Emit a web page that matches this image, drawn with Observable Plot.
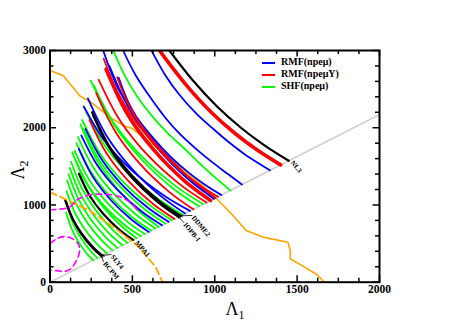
<!DOCTYPE html>
<html><head><meta charset="utf-8">
<script src="https://cdn.jsdelivr.net/npm/d3@7"></script>
<script src="https://cdn.jsdelivr.net/npm/@observablehq/plot@0.6"></script>
<style>
body{margin:0;background:#fff;}
#wrap{position:relative;width:457px;height:323px;overflow:hidden;}
.lg{position:absolute;font-family:"Liberation Serif","Times New Roman",serif;font-weight:bold;font-size:10px;line-height:12px;white-space:nowrap;}
.ll{position:absolute;height:2px;width:13px;}
</style></head><body><div id="wrap"></div>
<script>
// ---------- data ----------
const groups = ["RMF(npeμ)", "RMF(npeμY)", "SHF(npeμ)", "named"];
const groupColors = ["#0000ff", "#ff0000", "#00ff00", "#000000"];

const curveGroup = [
  "named","RMF(npeμY)","RMF(npeμ)","RMF(npeμ)","SHF(npeμ)","RMF(npeμ)","RMF(npeμY)","RMF(npeμY)","RMF(npeμ)",
  "SHF(npeμ)","SHF(npeμ)","named","named","SHF(npeμ)","SHF(npeμ)","SHF(npeμ)","SHF(npeμ)","SHF(npeμ)","named",
  "SHF(npeμ)","SHF(npeμ)","SHF(npeμ)","RMF(npeμ)","SHF(npeμ)","SHF(npeμ)","SHF(npeμ)","RMF(npeμ)","SHF(npeμ)","RMF(npeμ)",
  "SHF(npeμ)","RMF(npeμY)","named","named","RMF(npeμ)","SHF(npeμ)","RMF(npeμ)","RMF(npeμY)","SHF(npeμ)","SHF(npeμ)","RMF(npeμY)",
  "RMF(npeμY)","RMF(npeμ)"
];
const curveName = [
  "NL3","","","","","","","","",
  "","","SLY4","BCPM","","","","","","MPA1",
  "","","","","","","","","","",
  "","","IOPB-I","DDME2","","","","","","","",
  "",""
];
const curveL1 = [
  [652,725,869,1014,1159,1304,1449],
  [630,700,840,980,1120,1260,1400],
  [590,616,700,788,890,990,1090,1192,1335],
  [425,444,520,600,700,788,890,990,1080,1165],
  [370,384,450,530,620,710,800,900,1000,1095],
  [312,416,520,624,728,832,936,1040],
  [326,408,510,612,714,816,918,1020],
  [408,470,560,680,820,1005],
  [417,480,570,690,830,995],
  [98,131,172,221,262],
  [106,142,188,243,288],
  [92,137,194,262,318],
  [97,140,194,258,312],
  [100,149,210,284,345],
  [104,159,228,311,380],
  [112,172,246,336,410],
  [120,184,264,360,440],
  [128,196,282,385,470],
  [176,242,324,423,505],
  [135,213,311,428,525],
  [155,234,333,451,550],
  [150,235,341,469,575],
  [175,260,366,494,600],
  [160,251,365,501,615],
  [170,264,382,523,640],
  [185,280,399,541,660],
  [190,288,411,558,680],
  [201,301,426,575,700],
  [215,316,442,594,720],
  [195,304,440,604,740],
  [240,343,472,626,755],
  [262,366,495,651,780],
  [256,363,497,658,792],
  [230,348,496,673,820],
  [220,337,483,659,805],
  [205,334,495,689,850],
  [280,398,546,723,870],
  [266,394,554,745,905],
  [246,383,554,759,930],
  [296,427,590,787,950],
  [340,467,626,816,975],
  [360,487,646,836,995]
];
const curveL2 = [
  [3217,2999,2608,2275,2000,1768,1572],
  [3108,2898,2520,2198,1932,1708,1519],
  [3110,3000,2680,2420,2180,1987,1805,1641,1449],
  [3100,3000,2680,2420,2130,1920,1720,1545,1400,1265],
  [3070,3000,2690,2400,2150,1940,1760,1555,1360,1188],
  [3068,2496,2153,1872,1633,1435,1269,1129],
  [2893,2470,2111,1836,1601,1408,1244,1107],
  [2655,2330,2010,1700,1400,1091],
  [2647,2310,1990,1680,1380,1080],
  [900,693,524,376,284],
  [980,756,573,413,313],
  [1062,821,625,453,345],
  [1045,808,614,445,339],
  [1180,909,688,495,374],
  [1317,1013,765,548,412],
  [1400,1079,817,588,445],
  [1480,1143,869,628,478],
  [1560,1207,920,668,510],
  [1404,1116,882,676,548],
  [1683,1309,1004,737,570],
  [1576,1247,979,744,597],
  [1700,1338,1044,785,624],
  [1727,1365,1071,812,651],
  [1800,1420,1109,838,668],
  [1880,1482,1157,873,695],
  [2042,1596,1233,915,716],
  [1900,1510,1191,912,738],
  [1986,1574,1238,944,760],
  [1986,1581,1252,963,782],
  [2100,1664,1309,998,803],
  [2100,1670,1319,1012,820],
  [2160,1719,1359,1044,847],
  [2201,1750,1383,1061,860],
  [2380,1879,1471,1114,890],
  [2200,1754,1391,1073,874],
  [2275,1821,1450,1126,923],
  [2450,1944,1531,1170,944],
  [2547,2021,1592,1217,982],
  [2612,2074,1635,1250,1010],
  [2621,2087,1651,1270,1031],
  [2760,2188,1722,1313,1058],
  [2800,2222,1751,1338,1080]
];

const diagL1 = [0, 2000];
const diagL2 = [0, 2171];

const orangeL1 = [0,81,182,242,364,443,500,650,800,920,1010,1100,1190,1300,1444,1458,1458,1545,1620,1665];
const orangeL2 = [2742,2673,2410,2340,2137,2030,1990,1740,1470,1260,1084,890,670,580,518,410,303,195,100,0];

const orangeDashL1 = [0,101,238,400,541,642,678,682];
const orangeDashL2 = [1166,1067,929,692,453,194,22,0];

const magentaAL1 = [0,117,160,220,320,420,500,540];
const magentaAL2 = [938,971,1060,1120,1140,1110,1010,900];
const magentaBL1 = [0,40,80,130,170,180,160,127,90,40,0];
const magentaBL2 = [500,560,590,570,500,410,280,177,140,150,160];

const labelName = ["NL3","DDME2","IOPB-I","MPA1","SLY4","BCPM"];
const labelL1 = [1462, 862, 812, 519, 370, 325];
const labelL2 = [1576, 864, 773, 540, 359, 268];
const labelArrow = [false, true, true, false, true, true];

const xMajor = [0, 500, 1000, 1500, 2000];
const xMinor = [125,250,375,625,750,875,1125,1250,1375,1625,1750,1875];
const yMajor = [0, 1000, 2000, 3000];
const yMinor = [200,400,600,800,1200,1400,1600,1800,2200,2400,2600,2800];

// ---------- build ----------
const rows = [];
curveL1.forEach((xs, i) => xs.forEach((x, j) => rows.push({id: i, g: curveGroup[i], name: curveName[i], x, y: curveL2[i][j]})));
const thick = new Set([1, 40]);
const ends = {};
curveL1.forEach((xs, i) => { if (curveName[i]) ends[curveName[i]] = [xs[xs.length-1], curveL2[i][curveL2[i].length-1]]; });
const labels = labelName.map((n, i) => ({name: n, lx: labelL1[i], ly: labelL2[i], ex: ends[n][0], ey: ends[n][1], arrow: labelArrow[i]}));
const pts = (a, b) => a.map((x, i) => ({x, y: b[i]}));

const W = 457, H = 323, mL = 49.5, mR = 78, mT = 50, mB = 41.3;
const ph = H - mT - mB, pw = W - mL - mR;
const font = "Liberation Serif, Times New Roman, serif";

const lineOpts = (extra) => ({x: "x", y: "y", z: "id", stroke: "g", curve: "catmull-rom", clip: true, ...extra});

const svg = Plot.plot({
  width: W, height: H,
  marginLeft: mL, marginRight: mR, marginTop: mT, marginBottom: mB,
  style: {fontFamily: font, background: "white"},
  x: {domain: [0, 2000]},
  y: {domain: [0, 3000]},
  color: {domain: groups, range: groupColors},
  marks: [
    Plot.line(pts(diagL1, diagL2), {x: "x", y: "y", stroke: "#cfcfcf", strokeWidth: 1.6, clip: true}),
    Plot.line(pts(orangeL1, orangeL2), {x: "x", y: "y", stroke: "#ffa500", strokeWidth: 1.6, clip: true}),
    Plot.line(rows.filter(d => d.g === "SHF(npeμ)"), lineOpts({strokeWidth: 1.8})),
    Plot.line(rows.filter(d => d.g === "RMF(npeμ)"), lineOpts({strokeWidth: 1.8})),
    Plot.line(rows.filter(d => d.g === "RMF(npeμY)" && !thick.has(d.id)), lineOpts({strokeWidth: 1.8})),
    Plot.line(rows.filter(d => d.g === "RMF(npeμY)" && thick.has(d.id)), lineOpts({strokeWidth: 3.6})),
    Plot.line(rows.filter(d => d.g === "named"), lineOpts({strokeWidth: 2.2})),
    Plot.line(pts(orangeDashL1, orangeDashL2), {x: "x", y: "y", stroke: "#ffa500", strokeWidth: 1.8, strokeDasharray: "7,4", clip: true}),
    Plot.line(pts(magentaAL1, magentaAL2), {x: "x", y: "y", stroke: "#ff00ff", strokeWidth: 1.6, strokeDasharray: "6,4", curve: "catmull-rom", clip: true}),
    Plot.line(pts(magentaBL1, magentaBL2), {x: "x", y: "y", stroke: "#ff00ff", strokeWidth: 1.6, strokeDasharray: "6,4", curve: "catmull-rom", clip: true}),
    Plot.arrow(labels.filter(d => d.arrow), {x1: "lx", y1: "ly", x2: "ex", y2: "ey", stroke: "black", strokeWidth: 0.8, headLength: 4}),
    Plot.text(labels, {x: "lx", y: "ly", text: "name", rotate: 50, textAnchor: "start", fontSize: 7, fontWeight: "bold", fontFamily: font, dx: 1, dy: 1, fill: "black"}),
    Plot.frame({stroke: "black", strokeWidth: 2}),
    Plot.ruleX(xMajor, {x: d => d, insetTop: ph - 6.5, stroke: "black", strokeWidth: 1.5}),
    Plot.ruleX(xMajor, {x: d => d, insetBottom: ph - 6.5, stroke: "black", strokeWidth: 1.5}),
    Plot.ruleX(xMinor, {x: d => d, insetTop: ph - 4, stroke: "black", strokeWidth: 1.5}),
    Plot.ruleX(xMinor, {x: d => d, insetBottom: ph - 4, stroke: "black", strokeWidth: 1.5}),
    Plot.ruleY(yMajor, {y: d => d, insetRight: pw - 6.5, stroke: "black", strokeWidth: 1.5}),
    Plot.ruleY(yMajor, {y: d => d, insetLeft: pw - 6.5, stroke: "black", strokeWidth: 1.5}),
    Plot.ruleY(yMinor, {y: d => d, insetRight: pw - 4, stroke: "black", strokeWidth: 1.5}),
    Plot.ruleY(yMinor, {y: d => d, insetLeft: pw - 4, stroke: "black", strokeWidth: 1.5}),
    Plot.axisX({ticks: xMajor, tickFormat: d => String(d), tickSize: 0, tickPadding: 3, label: null, fontSize: 11.5, fontWeight: "bold", fontFamily: font, fill: "black"}),
    Plot.axisY({ticks: yMajor, tickFormat: d => String(d), tickSize: 0, tickPadding: 4, label: null, fontSize: 11.5, fontWeight: "bold", fontFamily: font, fill: "black"})
  ]
});

const wrap = document.getElementById("wrap");
wrap.appendChild(svg);

const s = d3.select(svg);
const t1 = s.append("text").attr("x", 235).attr("y", 315).attr("font-family", font).attr("font-size", 18).attr("fill", "black");
t1.append("tspan").text("Λ");
t1.append("tspan").attr("font-size", 12).attr("dy", 4).text("1");
const t2 = s.append("text").attr("transform", "translate(24,170) rotate(-90)").attr("font-family", font).attr("font-size", 18).attr("fill", "black");
t2.append("tspan").text("Λ");
t2.append("tspan").attr("font-size", 12).attr("dy", 4).text("2");

// legend
const legendY = [62.7, 74.5, 86.5];
groups.slice(0, 3).forEach((g, i) => {
  const l = document.createElement("div");
  l.className = "ll";
  l.style.left = "262px"; l.style.top = (legendY[i] - 1) + "px"; l.style.background = groupColors[i];
  wrap.appendChild(l);
  const t = document.createElement("div");
  t.className = "lg";
  t.style.left = "281px"; t.style.top = (legendY[i] - 6.5) + "px";
  t.textContent = g;
  wrap.appendChild(t);
});
</script></body></html>
